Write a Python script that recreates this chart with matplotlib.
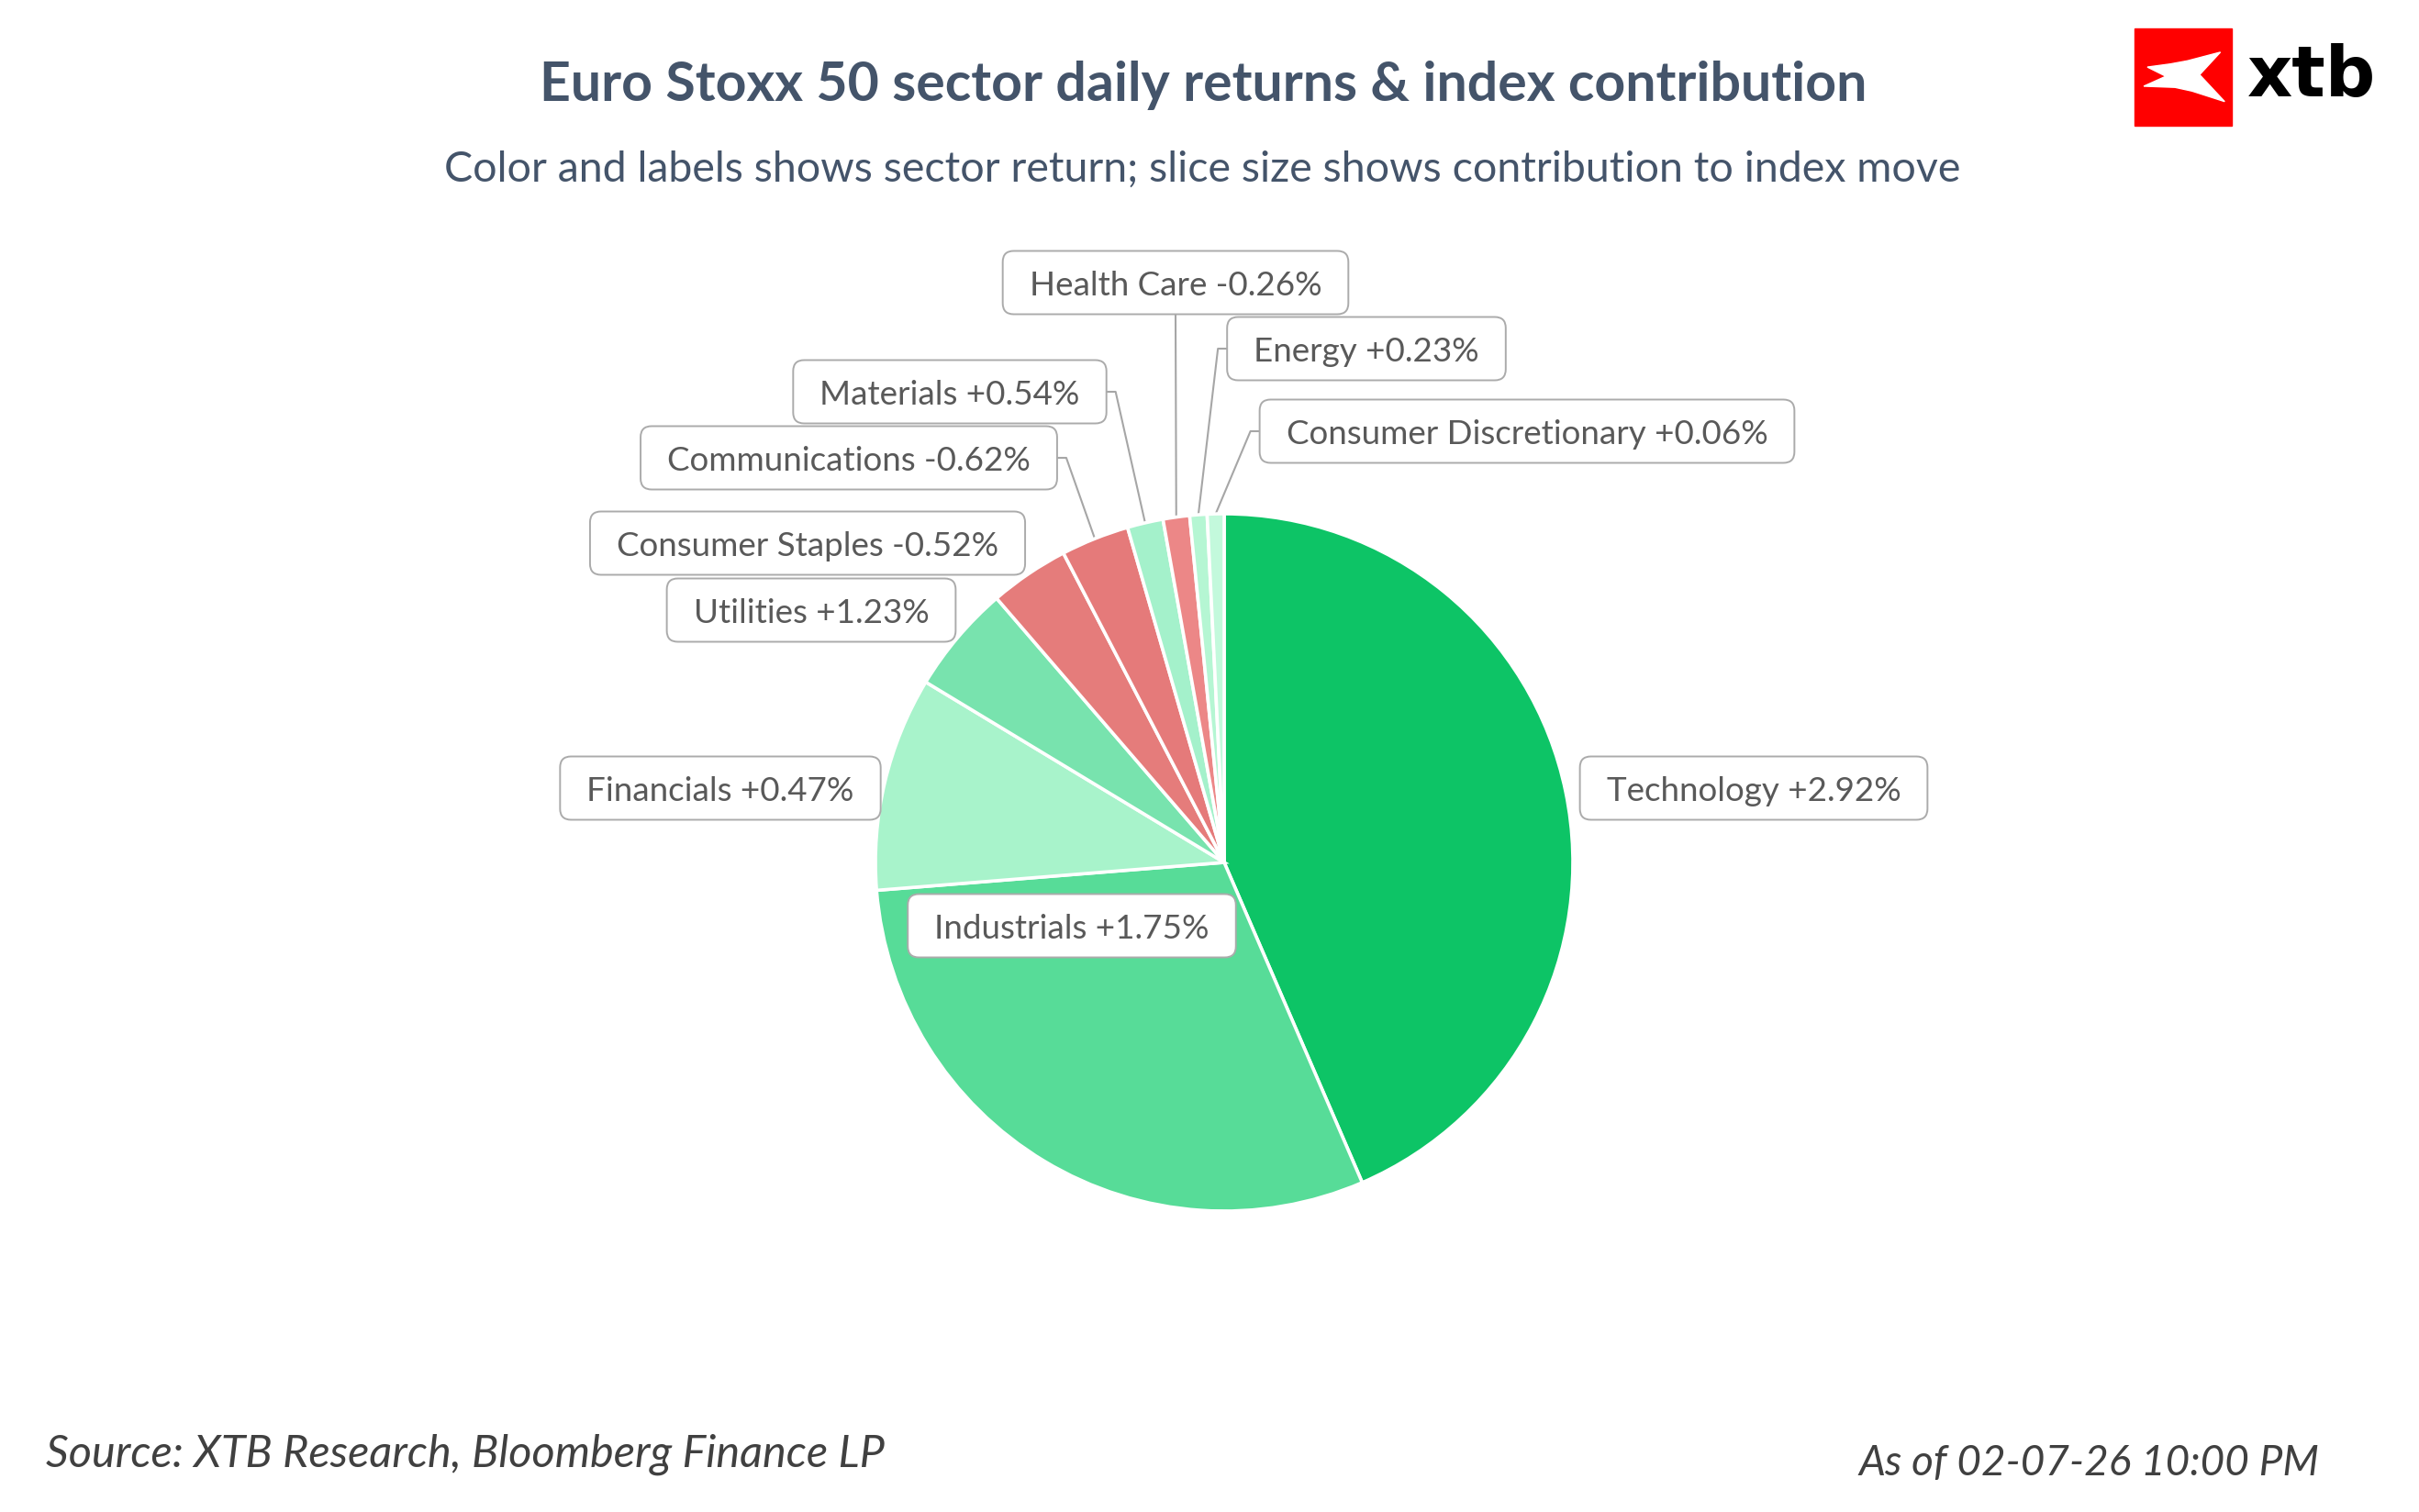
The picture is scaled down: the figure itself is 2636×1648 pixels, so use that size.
"""Euro Stoxx 50 — retorno diário por setor e contribuição ao índice (pizza)."""

import matplotlib
matplotlib.use("Agg")

import matplotlib.pyplot as plt
import numpy as np
from matplotlib.patches import FancyBboxPatch, Rectangle, Polygon

# ---------------------------------------------------------------------------
# Dados (ordem horária a partir do topo)
# ---------------------------------------------------------------------------

setores = ["Technology", "Industrials", "Financials", "Utilities",
           "Consumer Staples", "Communications", "Materials", "Health Care",
           "Energy", "Consumer Discretionary"]
retornos = [2.92, 1.75, 0.47, 1.23, -0.52, -0.62, 0.54, -0.26, 0.23, 0.06]
contribuicao = [43.53, 30.21, 9.93, 5.03, 3.69, 3.16, 1.66, 1.23, 0.80, 0.78]

# ---------------------------------------------------------------------------
# Estilo / layout
# ---------------------------------------------------------------------------

CORES = ["#0DC466", "#57DC98", "#A8F3CB", "#78E3AE", "#E57C7B",
         "#E57A7A", "#A4F1CB", "#EC8787", "#B5F6D3", "#C3F9DC"]

W, H = 2636, 1649
CENTRO = (1334, H - 941)
RAIO = 380

FONTE = "Lato"
COR_TITULO = "#44546A"
COR_TEXTO = "#595959"
COR_BORDA = "#ABABAB"
COR_LINHA = "#A6A6A6"

# centro da caixa (px, y de cima para baixo) e lado de saída da linha-guia
POS_ROTULOS = [
    (1911, 860, None),
    (1168, 1010, None),
    (785, 860, None),
    (884, 666, None),
    (880, 593, None),
    (925, 500, "right"),
    (1035, 428, "right"),
    (1281, 309, "bottom"),
    (1489, 381, "left"),
    (1664, 471, "left"),
]
TAM_ROTULO = 26.5
BOX_H = 69
PAD_X = 29

fig = plt.figure(figsize=(W / 100, H / 100), dpi=100)
ax = fig.add_axes([0, 0, 1, 1])

wedges, _ = ax.pie(contribuicao, colors=CORES, startangle=90, counterclock=False,
                   center=CENTRO, radius=RAIO,
                   wedgeprops=dict(edgecolor="white", linewidth=2.6))
ax.set_xlim(0, W)
ax.set_ylim(0, H)
ax.set_aspect("equal")
ax.axis("off")

# títulos
ax.text(1311, H - 93, "Euro Stoxx 50 sector daily returns & index contribution",
        ha="center", va="center", fontsize=42.5, fontweight="bold",
        color=COR_TITULO, family=FONTE)
ax.text(1310, H - 185,
        "Color and labels shows sector return; slice size shows contribution to index move",
        ha="center", va="center", fontsize=33.5, color=COR_TITULO, family=FONTE)

# rodapé
ax.text(50, H - 1585, "Source: XTB Research, Bloomberg Finance LP",
        ha="left", va="center", fontsize=35, style="italic",
        color="#404040", family=FONTE)
ax.text(2527, H - 1595, "As of 02-07-26 10:00 PM",
        ha="right", va="center", fontsize=33, style="italic",
        color="#404040", family=FONTE)

# logo
lx, ly, ls = 2326, 32, 106
ax.add_patch(Rectangle((lx, H - ly - ls), ls, ls, color="#FF0000", zorder=5))
forma = [(0.883, 0.244), (0.669, 0.476), (0.927, 0.752), (0.590, 0.644),
         (0.416, 0.606), (0.095, 0.594), (0.322, 0.492), (0.132, 0.397),
         (0.369, 0.365), (0.543, 0.333)]
ax.add_patch(Polygon([(lx + fx * ls, H - ly - fy * ls) for fx, fy in forma],
                     closed=True, color="white", zorder=6))
ax.text(2449, H - 84, "xtb", ha="left", va="center", fontsize=55,
        fontweight="bold", color="black", family="DejaVu Sans")

# rótulos
px_fonte = TAM_ROTULO * 100 / 72
cap = 0.72 * px_fonte
textos = []
for nome, ret, (cx, cy, _) in zip(setores, retornos, POS_ROTULOS):
    t = ax.text(cx, H - cy - cap / 2, f"{nome} {ret:+.2f}%", ha="center",
                va="baseline", fontsize=TAM_ROTULO, color=COR_TEXTO,
                family=FONTE, zorder=4)
    textos.append(t)

fig.canvas.draw()
rend = fig.canvas.get_renderer()
inv = ax.transData.inverted()

for t, w, (cx, cy, lado) in zip(textos, wedges, POS_ROTULOS):
    bb = t.get_window_extent(rend).transformed(inv)
    larg = bb.width + 2 * PAD_X
    yc = H - cy
    x0, x1 = cx - larg / 2, cx + larg / 2
    ax.add_patch(FancyBboxPatch((x0, yc - BOX_H / 2), larg, BOX_H,
                                boxstyle="round,pad=0,rounding_size=12",
                                fc="white", ec=COR_BORDA, lw=1.4, zorder=3))
    if lado is None:
        continue
    meio = np.deg2rad((w.theta1 + w.theta2) / 2)
    fim = (CENTRO[0] + RAIO * np.cos(meio), CENTRO[1] + RAIO * np.sin(meio))
    if lado == "right":
        pts = [(x1, yc), (x1 + 10, yc), fim]
    elif lado == "left":
        pts = [(x0, yc), (x0 - 10, yc), fim]
    else:
        pts = [(cx, yc - BOX_H / 2), fim]
    xs, ys = zip(*pts)
    ax.plot(xs, ys, color=COR_LINHA, lw=1.5, zorder=0.5)

fig.savefig("out.png", dpi=100, facecolor="white")
